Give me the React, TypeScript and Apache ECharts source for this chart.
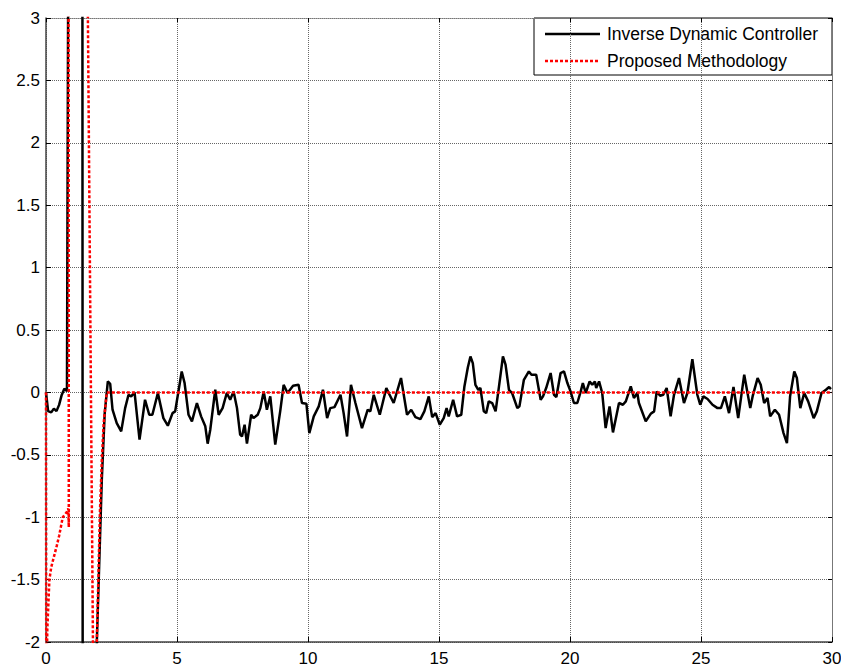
import React, { useEffect, useRef } from "react";
import * as echarts from "echarts";

const seriesNames = ["Inverse Dynamic Controller", "Proposed Methodology"];

const blackT = [
  0, 0.08, 0.2, 0.3, 0.4, 0.5, 0.6, 0.7, 0.8, 0.85, 1.39, 1.4, 1.93, 1.94, 2.13, 2.24, 2.36, 2.45, 2.54, 2.7,
  2.87, 3.02, 3.15, 3.25, 3.38, 3.57, 3.78, 3.94, 4.06, 4.27, 4.48, 4.65, 4.83, 4.93, 5.18, 5.29, 5.44, 5.57,
  5.76, 5.92, 6.08, 6.17, 6.27, 6.46, 6.59, 6.74, 6.9, 7.03, 7.16, 7.29, 7.41, 7.48, 7.58, 7.67, 7.83, 7.92,
  8.08, 8.18, 8.31, 8.43, 8.56, 8.75, 8.94, 9.07, 9.22, 9.43, 9.64, 9.77, 9.94, 10.05, 10.22, 10.41, 10.57,
  10.73, 10.85, 11.01, 11.24, 11.36, 11.49, 11.64, 11.81, 12.06, 12.28, 12.38, 12.51, 12.74, 12.99, 13.08,
  13.27, 13.55, 13.78, 13.94, 14.1, 14.29, 14.44, 14.61, 14.74, 14.87, 15.03, 15.18, 15.29, 15.37, 15.54,
  15.69, 15.85, 15.97, 16.1, 16.2, 16.29, 16.39, 16.5, 16.58, 16.71, 16.8, 16.9, 17.03, 17.16, 17.29, 17.44,
  17.54, 17.67, 17.79, 17.99, 18.07, 18.24, 18.43, 18.53, 18.71, 18.88, 18.97, 19.09, 19.26, 19.39, 19.48,
  19.64, 19.77, 19.9, 20.02, 20.15, 20.28, 20.41, 20.49, 20.6, 20.75, 20.85, 20.95, 21.0, 21.11, 21.23,
  21.36, 21.51, 21.64, 21.87, 22.02, 22.13, 22.32, 22.44, 22.57, 22.63, 22.89, 23.08, 23.21, 23.31, 23.44,
  23.56, 23.69, 23.84, 23.97, 24.16, 24.35, 24.48, 24.67, 24.86, 24.97, 25.09, 25.25, 25.44, 25.63, 25.76,
  25.91, 26.07, 26.24, 26.42, 26.65, 26.88, 26.97, 27.16, 27.28, 27.41, 27.54, 27.64, 27.82, 27.98, 28.15,
  28.28, 28.4, 28.56, 28.66, 28.79, 28.94, 29.09, 29.3, 29.42, 29.6, 29.77, 29.89, 29.96,
];
const blackV = [
  0, -0.15, -0.16, -0.13, -0.15, -0.1, -0.02, 0.03, 0.01, 3.5, 3.5, -2.5, -2.5, -2.0, -0.7, -0.17, 0.088,
  0.069, -0.139, -0.246, -0.312, -0.126, -0.019, -0.032, 0, -0.379, -0.059, -0.179, -0.179, -0.005, -0.206,
  -0.267, -0.166, -0.152, 0.168, 0.075, -0.179, -0.232, -0.085, -0.192, -0.272, -0.411, -0.299, 0.021,
  -0.179, -0.126, -0.005, -0.059, 0.008, -0.126, -0.339, -0.353, -0.259, -0.411, -0.179, -0.206, -0.179,
  -0.126, 0.008, -0.139, -0.032, -0.419, -0.15, 0.061, -0.005, 0.053, 0.061, -0.085, -0.091, -0.326,
  -0.192, -0.112, 0.021, -0.206, -0.126, -0.118, -0.019, -0.166, -0.353, 0.061, -0.085, -0.286, -0.139,
  -0.152, -0.019, -0.179, 0.035, -0.005, -0.085, 0.115, -0.179, -0.139, -0.198, -0.214, -0.152, -0.032,
  -0.198, -0.166, -0.259, -0.206, -0.126, -0.192, -0.059, -0.192, -0.179, 0.048, 0.2, 0.288, 0.235, 0.061,
  0.021, 0.035, -0.152, -0.166, -0.072, -0.085, -0.152, 0.048, 0.288, 0.222, 0.021, -0.005, -0.126, -0.112,
  0.101, 0.168, 0.142, 0.142, -0.059, -0.032, 0.035, 0.155, -0.019, -0.037, 0.155, 0.168, 0.075, 0.008,
  -0.085, -0.085, 0.008, 0.075, -0.005, 0.088, 0.061, 0.088, 0.035, 0.088, -0.005, -0.286, -0.112, -0.321,
  -0.085, -0.099, -0.072, 0.048, -0.045, -0.005, -0.085, -0.232, -0.172, -0.152, 0.008, -0.027, -0.019,
  0.035, -0.192, -0.019, 0.115, -0.085, -0.005, 0.267, -0.019, -0.099, -0.032, -0.053, -0.099, -0.126,
  -0.126, -0.032, -0.166, 0.043, -0.206, 0.142, -0.126, -0.032, 0.115, 0.061, -0.085, -0.045, -0.192,
  -0.139, -0.179, -0.326, -0.406, -0.032, 0.168, 0.115, -0.126, -0.005, -0.072, -0.206, -0.152, -0.005,
  0.021, 0.043, 0.027,
];

const redT = [
  0, 0.01, 0.03, 0.05, 0.13, 0.2, 0.41, 0.5, 0.64, 0.79, 0.85, 0.87, 0.86, 1.58, 1.8, 1.93, 1.94, 2.06, 2.13,
  2.2, 2.32, 30,
];
const redV = [
  0, -2.5, -2.5, -1.9, -1.5, -1.4, -1.23, -1.15, -1.0, -0.96, -0.93, -1.08, 3.5, 3.5, -2.2, -2.2, -2.0,
  -0.95, -0.55, -0.25, 0, 0,
];

const xTicks = { min: 0, max: 30, interval: 5 };
const yTicks = { min: -2, max: 3, interval: 0.5 };

const FONT = "'Liberation Sans', Arial, sans-serif";

export default function App() {
  const ref = useRef<HTMLDivElement>(null);
  useEffect(() => {
    if (!ref.current) return;
    const chart = echarts.init(ref.current, undefined, { renderer: "svg" });
    const black = blackT.map((t, i) => [t, blackV[i]]);
    const red = redT.map((t, i) => [t, redV[i]]);
    const gridLine = { show: true, lineStyle: { color: "#666", width: 1, type: [1, 1] as any } };
    chart.setOption({
      animation: false,
      backgroundColor: "#fff",
      grid: { left: 46, right: 9, top: 18, bottom: 24, containLabel: false, outerBoundsMode: "none" },
      xAxis: [
        {
          type: "value",
          min: xTicks.min,
          max: xTicks.max,
          interval: xTicks.interval,
          axisLine: { show: true, onZero: false, lineStyle: { color: "#444", width: 1.5 } },
          axisTick: { show: true, inside: true, length: 5, lineStyle: { color: "#000" } },
          axisLabel: { color: "#000", fontSize: 17, lineHeight: 14, fontFamily: FONT, margin: 9 },
          splitLine: gridLine,
        },
        {
          type: "value",
          position: "top",
          min: xTicks.min,
          max: xTicks.max,
          interval: xTicks.interval,
          axisLine: { show: true, onZero: false, lineStyle: { color: "#777", width: 1, type: [1, 1] as any } },
          axisTick: { show: true, inside: true, length: 4, lineStyle: { color: "#000" } },
          axisLabel: { show: false },
          splitLine: { show: false },
        },
      ],
      yAxis: [
        {
          type: "value",
          min: yTicks.min,
          max: yTicks.max,
          interval: yTicks.interval,
          axisLine: { show: true, onZero: false, lineStyle: { color: "#444", width: 1.5 } },
          axisTick: { show: true, inside: true, length: 5, lineStyle: { color: "#000" } },
          axisLabel: { color: "#000", fontSize: 17, fontFamily: FONT, margin: 6 },
          splitLine: gridLine,
        },
        {
          type: "value",
          position: "right",
          min: yTicks.min,
          max: yTicks.max,
          interval: yTicks.interval,
          axisLine: { show: true, onZero: false, lineStyle: { color: "#777", width: 1 } },
          axisTick: { show: true, inside: true, length: 4, lineStyle: { color: "#000" } },
          axisLabel: { show: false },
          splitLine: { show: false },
        },
      ],
      graphic: [
        {
          type: "group",
          z: 100,
          children: [
            {
              type: "rect",
              shape: { x: 534, y: 18, width: 298, height: 57 },
              style: { fill: "#fff", stroke: "#000", lineWidth: 1 },
            },
            {
              type: "line",
              shape: { x1: 545, y1: 34, x2: 600, y2: 34 },
              style: { stroke: "#000", lineWidth: 2.5 },
            },
            {
              type: "text",
              x: 607,
              y: 34,
              style: {
                text: seriesNames[0],
                fill: "#000",
                fontSize: 17.5,
                fontFamily: FONT,
                verticalAlign: "middle",
                align: "left",
              },
            },
            {
              type: "line",
              shape: { x1: 545, y1: 61, x2: 600, y2: 61 },
              style: { stroke: "#ff0000", lineWidth: 2.5, lineDash: [3, 2] },
            },
            {
              type: "text",
              x: 607,
              y: 61,
              style: {
                text: seriesNames[1],
                fill: "#000",
                fontSize: 17.5,
                fontFamily: FONT,
                verticalAlign: "middle",
                align: "left",
              },
            },
          ],
        },
      ],
      series: [
        {
          name: seriesNames[0],
          type: "line",
          data: black,
          symbol: "none",
          showSymbol: false,
          clip: true,
          z: 3,
          lineStyle: { color: "#000", width: 2.5 },
          itemStyle: { color: "#000" },
        },
        {
          name: seriesNames[1],
          type: "line",
          data: red,
          symbol: "none",
          showSymbol: false,
          clip: true,
          z: 4,
          lineStyle: { color: "#ff0000", width: 2.5, type: [3, 2] },
          itemStyle: { color: "#ff0000" },
        },
      ],
    });
    return () => chart.dispose();
  }, []);
  return (
    <div
      ref={ref}
      style={{ position: "fixed", left: 0, top: 0, width: 841, height: 666, background: "#fff" }}
    />
  );
}
